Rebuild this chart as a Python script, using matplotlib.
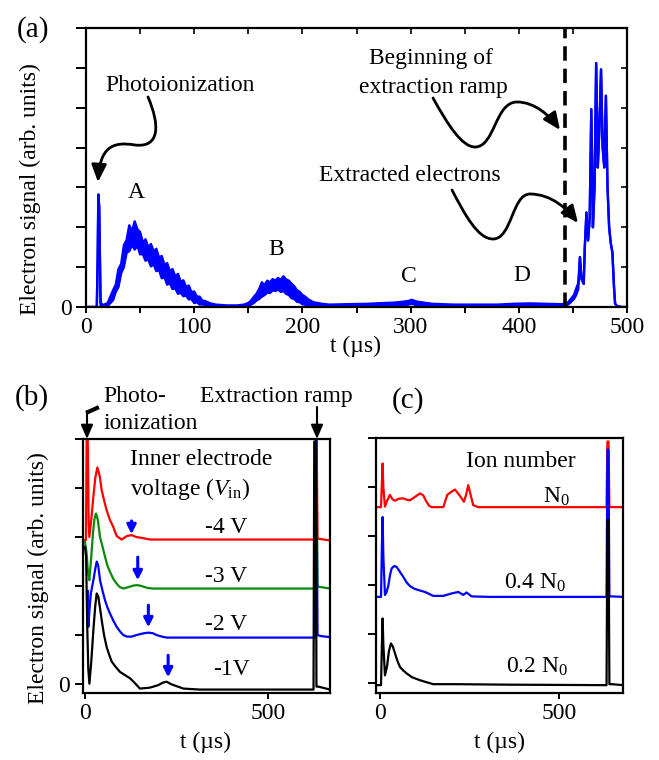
import matplotlib
matplotlib.use("Agg")
import matplotlib.pyplot as plt
from matplotlib.patches import FancyArrowPatch
from matplotlib.path import Path
from matplotlib.transforms import Affine2D

plt.rcParams["font.family"] = ["Liberation Serif", "DejaVu Serif"]
plt.rcParams["mathtext.fontset"] = "custom"
plt.rcParams["mathtext.rm"] = "Liberation Serif"
plt.rcParams["mathtext.it"] = "Liberation Serif:italic"
plt.rcParams["font.size"] = 17

# ---- panel (a): electron signal, upper / lower edge of the noisy trace
t_a = [0, 10, 10.8, 11.4, 12.2, 13.5, 16, 20,
       25, 27.5, 30, 32.5, 35, 37.5, 40, 42.5, 45, 47.5,
       50, 52.5, 55, 57.5, 60, 62.5, 65, 67.5, 70, 72.5,
       75, 77.5, 80, 82.5, 85, 87.5, 90, 92.5, 95, 97.5,
       100, 102.5, 105, 107.5, 110,
       115, 120, 130, 140, 146,
       150, 152.5, 155, 157.5, 160, 162.5, 165, 167.5, 170, 172.5,
       175, 177.5, 180, 182.5, 185, 187.5, 190, 192.5, 195, 197.5,
       200, 202.5, 205, 207.5, 210,
       218, 225, 240, 260, 275, 285, 292, 298, 301, 305,
       312, 320, 340, 360, 380, 395, 410, 425, 440,
       445, 448, 451, 453, 455, 456.5, 458, 460, 461, 462.5,
       464, 465.5, 467, 468.5, 470, 471.5, 473, 474.5, 476, 477.5,
       479, 480.5, 482, 483.5, 485, 486.5, 488, 489, 491, 495, 500]
sig_hi = [0, 0, 1.2, 2.82, 2.5, 0.1, 0.05, 0.1,
          0.42, 0.56, 0.95, 1.08, 1.55, 1.68, 2.05, 1.9, 2.15, 1.95,
          1.88, 1.62, 1.7, 1.5, 1.58, 1.4, 1.46, 1.24, 1.28, 1.06,
          1.1, 0.9, 0.95, 0.77, 0.83, 0.63, 0.67, 0.5, 0.54, 0.37,
          0.39, 0.26, 0.26, 0.16, 0.15,
          0.09, 0.06, 0.04, 0.04, 0.06,
          0.1, 0.16, 0.25, 0.33, 0.45, 0.62, 0.55, 0.66, 0.62, 0.7,
          0.66, 0.73, 0.68, 0.77, 0.69, 0.66, 0.58, 0.52, 0.42, 0.38,
          0.3, 0.26, 0.2, 0.16, 0.12,
          0.08, 0.06, 0.07, 0.08, 0.1, 0.11, 0.13, 0.15, 0.18, 0.14,
          0.11, 0.08, 0.06, 0.06, 0.06, 0.08, 0.09, 0.08, 0.07,
          0.1, 0.2, 0.3, 0.46, 0.6, 1.25, 0.7, 0.58, 1.5, 2.37,
          1.67, 2.2, 4.96, 2.0, 3.0, 6.12, 3.5, 4.5, 5.96, 4.0,
          3.5, 5.3, 3.0, 2.0, 1.6, 1.37, 0.5, 0.08, 0.02, 0.0, 0.0]
sig_lo = [0, 0, 1.2, 2.82, 2.5, 0.02, 0.0, 0.03,
          0.17, 0.38, 0.5, 0.85, 1.0, 1.36, 1.4, 1.56, 1.44, 1.54,
          1.32, 1.33, 1.16, 1.2, 1.02, 1.07, 0.9, 0.93, 0.72, 0.75,
          0.56, 0.6, 0.45, 0.47, 0.33, 0.36, 0.27, 0.29, 0.19, 0.2,
          0.1, 0.12, 0.06, 0.07, 0.03,
          0.03, 0.02, 0.01, 0.01, 0.02,
          0.03, 0.06, 0.1, 0.16, 0.2, 0.26, 0.3, 0.36, 0.35, 0.42,
          0.4, 0.44, 0.38, 0.4, 0.33, 0.3, 0.22, 0.2, 0.13, 0.12,
          0.07, 0.06, 0.04, 0.03, 0.02,
          0.02, 0.01, 0.01, 0.02, 0.03, 0.04, 0.05, 0.06, 0.08, 0.05,
          0.03, 0.02, 0.01, 0.01, 0.01, 0.02, 0.03, 0.02, 0.01,
          0.05, 0.12, 0.2, 0.3, 0.45, 1.25, 0.7, 0.58, 1.5, 2.37,
          1.67, 2.2, 4.96, 2.0, 3.0, 6.12, 3.5, 4.5, 5.96, 4.0,
          3.5, 5.3, 3.0, 2.0, 1.6, 1.37, 0.5, 0.08, 0.02, 0.0, 0.0]
ramp_start = 443
peak_labels = ["A", "B", "C", "D"]

# ---- panel (b): inner electrode voltage, traces offset by one unit
t_b_m4 = [0, 2.5, 4.5, 7.5, 10, 11.8, 17, 22.8, 28, 33.7,
          40, 45.5, 52, 59, 68, 77, 86.5, 100, 114, 127.5,
          140, 150, 177.6, 300, 450, 630, 632.5, 635, 669]
v_b_m4 = [2.94, 2.94, 4.98, 4.98, 3.3, 3.0, 3.35, 3.82, 4.2, 4.42,
          4.25, 3.96, 3.75, 3.55, 3.35, 3.21, 3.02, 2.95, 3.02, 3.04,
          3.0, 2.99, 2.95, 2.95, 2.95, 2.95, 5.0, 2.97, 2.93]
t_b_m3 = [0, 4, 8, 11.8, 16, 22, 26, 30, 35, 41,
          48, 54.6, 61, 68.3, 77, 86.5, 95, 104.7, 114, 123,
          132, 141, 150, 159, 172, 186.7, 300, 450, 628, 631.5,
          635, 669]
v_b_m3 = [2.9, 2.7, 2.3, 2.12, 2.5, 3.1, 3.38, 3.48, 3.35, 3.0,
          2.8, 2.6, 2.42, 2.29, 2.15, 2.05, 1.98, 1.95, 1.97, 1.99,
          2.01, 2.02, 2.01, 1.99, 1.96, 1.95, 1.95, 1.95, 1.95, 5.0,
          1.99, 1.95]
t_b_m2 = [8, 9.1, 12, 16, 22.8, 28, 32, 36, 41, 48,
          54.6, 61, 68.3, 77, 86.5, 95, 104.7, 115, 127.5, 140,
          150, 162, 173, 185, 196, 210, 223, 300, 450, 628,
          631.5, 635, 645, 669]
v_b_m2 = [1.9, 1.17, 1.5, 1.85, 2.12, 2.35, 2.5, 2.42, 2.12, 1.9,
          1.71, 1.57, 1.44, 1.3, 1.17, 1.08, 1.0, 0.97, 0.97, 1.0,
          1.02, 1.04, 1.05, 1.04, 1.0, 0.97, 0.95, 0.95, 0.95, 0.95,
          5.0, 1.0, 0.98, 0.96]
t_b_m1 = [0, 3, 6, 9, 12, 17, 22.8, 28, 31.9, 36.4,
          41, 45.5, 52, 59, 66, 72.9, 84, 95.6, 110, 123,
          135, 150, 177.6, 200, 212, 223, 235, 250, 268.7, 314,
          450, 624, 626, 630, 632, 637.5, 669]
v_b_m1 = [2.8, 2.6, 1.2, 0.3, 0.01, 0.45, 1.1, 1.6, 1.85, 1.78,
          1.55, 1.31, 1.0, 0.76, 0.6, 0.46, 0.35, 0.25, 0.18, 0.12,
          0.03, -0.09, -0.07, -0.02, 0.03, 0.05, 0.0, -0.04, -0.09, -0.11,
          -0.11, -0.11, 4.95, 4.95, -0.05, -0.05, -0.11]
v_labels = ["-4 V", "-3 V", "-2 V", "-1V"]
# small blue arrows: time, arrow tail, arrow tip
arrow_t = [127, 144, 173, 227]
arrow_from = [3.33, 2.59, 1.61, 0.59]
arrow_to = [3.06, 2.12, 1.16, 0.14]

# ---- panel (c): ion number
t_c_n0 = [-5, 3, 5.5, 7.4, 9.5, 14, 20, 28, 35, 42,
          52, 65, 75, 84, 98, 112, 121, 128.5, 137, 144,
          177, 188, 199, 209.5, 223.5, 234.6, 241, 246.7, 253, 260.7,
          274.7, 633, 635.5, 638.5, 641, 647, 680]
v_c_n0 = [3.59, 3.59, 4.1, 4.48, 4.0, 3.6, 3.72, 3.84, 3.75, 3.72,
          3.76, 3.77, 3.74, 3.73, 3.8, 3.87, 3.83, 3.72, 3.62, 3.59,
          3.59, 3.84, 3.9, 3.95, 3.82, 3.7, 3.85, 4.04, 3.85, 3.63,
          3.59, 3.59, 4.93, 4.93, 3.59, 3.59, 3.59]
t_c_04 = [-5, 3, 5.5, 7.4, 9.5, 14, 18, 23, 28, 32.6,
          40, 46.6, 55, 65, 75, 84, 95, 107, 126, 149,
          177, 200, 219, 233, 242, 256, 307, 633, 635.5, 638.5,
          641, 647, 680]
v_c_04 = [1.76, 1.76, 2.8, 3.39, 2.6, 1.8, 1.85, 1.97, 2.2, 2.34,
          2.39, 2.37, 2.28, 2.17, 2.05, 1.98, 1.93, 1.9, 1.86, 1.78,
          1.78, 1.83, 1.86, 1.8, 1.85, 1.77, 1.76, 1.76, 4.76, 4.76,
          1.77, 1.77, 1.76]
t_c_02 = [-5, 3, 5.5, 7.4, 9.5, 14, 20, 25, 30.7, 36,
          42, 49, 56, 65, 74.5, 90, 112, 130, 149, 214,
          354, 633, 635.5, 638.5, 641, 647, 680]
v_c_02 = [-0.04, -0.04, 0.8, 1.32, 0.8, 0.16, 0.35, 0.65, 0.81, 0.75,
          0.61, 0.45, 0.33, 0.26, 0.2, 0.12, 0.06, 0.02, -0.02, -0.02,
          -0.03, -0.04, 3.33, 3.33, -0.02, -0.02, -0.04]

W, H = 659, 760
fig = plt.figure(figsize=(W / 100, H / 100), dpi=100)
# figure pixel coordinates, origin top-left
px = Affine2D().scale(1 / W, -1 / H).translate(0, 1) + fig.transFigure

RED, GREEN, BLUE = "#ff0000", "#0a8a0a", "#0000ff"


def style_axes(ax):
    for s in ax.spines.values():
        s.set_linewidth(1.6)
    ax.tick_params(width=1.4)


# ================= (a)
ax = fig.add_axes([86 / W, 1 - 307 / H, 541 / W, 279 / H])
style_axes(ax)
ax.fill_between(t_a, sig_lo, sig_hi, color=BLUE, lw=0)
ax.plot(t_a, sig_hi, color=BLUE, lw=1.7)
ax.plot(t_a, sig_lo, color=BLUE, lw=1.7)
ax.axvline(ramp_start, color="k", lw=2.6, ls=(0, (4, 2.2)))
ax.set_xlim(0, 500)
ax.set_ylim(0, 7)
ax.set_xticks(range(0, 501, 100))
ax.set_xticks(range(50, 500, 100), minor=True)
ax.set_yticks(range(0, 8))
ax.set_yticklabels(["0"] + [""] * 7)
ax.tick_params(axis="y", direction="out", length=7)
ax.tick_params(axis="x", which="both", direction="out", length=4, width=1.4)
sec = ax.secondary_xaxis("top")
sec.set_xticks(range(0, 501, 50))
sec.tick_params(direction="in", length=4, width=1.2, labeltop=False)
sec.spines["top"].set_visible(False)
sec2 = ax.secondary_yaxis("right")
sec2.set_yticks(range(0, 8))
sec2.tick_params(direction="in", length=4, width=1.2, labelright=False)
sec2.spines["right"].set_visible(False)

fig.text(33, 37, "(a)", transform=px, fontsize=21, ha="center", va="baseline")
fig.text(30, 189, "Electron signal (arb. units)", transform=px, rotation=90,
         ha="center", va="center")
fig.text(356, 352, "t (µs)", transform=px, ha="center", va="baseline")
fig.text(180, 91, "Photoionization", transform=px, ha="center", va="baseline")
for lab, (x, y) in zip(peak_labels, [(136, 198), (276, 255), (409, 282), (522, 281)]):
    fig.text(x, y, lab, transform=px, ha="center", va="baseline")
fig.text(431, 64, "Beginning of", transform=px, ha="center", va="baseline")
fig.text(433, 93, "extraction ramp", transform=px, ha="center", va="baseline")
fig.text(410, 181, "Extracted electrons", transform=px, ha="center", va="baseline")

C7 = [Path.MOVETO] + [Path.CURVE4] * 6
C10 = [Path.MOVETO] + [Path.CURVE4] * 9
curvy = [
    ([(148, 97), (160, 125), (160, 148), (135, 145),
      (112, 141), (100, 148), (98, 182)], C7),
    ([(433, 98), (448, 125), (462, 147), (475, 147),
      (495, 147), (495, 102), (517, 102),
      (535, 102), (550, 116), (560, 130)], C10),
    ([(452, 190), (465, 215), (478, 239), (493, 239),
      (512, 239), (512, 194), (530, 194),
      (552, 194), (568, 210), (578, 223)], C10),
]
for verts, codes in curvy:
    fig.add_artist(FancyArrowPatch(path=Path(verts, codes), transform=px,
                                   arrowstyle="-|>,head_length=0.8,head_width=0.35",
                                   mutation_scale=13, lw=2, color="k"))

# ================= (b)
bx = fig.add_axes([83 / W, 1 - 693 / H, 247 / W, 254 / H])
style_axes(bx)
bx.plot(t_b_m4, v_b_m4, color=RED, lw=1.6)
bx.plot(t_b_m3, v_b_m3, color=GREEN, lw=1.6)
bx.plot(t_b_m2, v_b_m2, color=BLUE, lw=1.6)
bx.plot(t_b_m1, v_b_m1, color="k", lw=1.6)
for t, y0, y1 in zip(arrow_t, arrow_from, arrow_to):
    bx.annotate("", xy=(t, y1), xytext=(t, y0),
                arrowprops=dict(arrowstyle="-|>,head_length=0.6,head_width=0.3",
                                color=BLUE, lw=2.2, mutation_scale=9,
                                shrinkA=0, shrinkB=0))
bx.set_xlim(-5.5, 669)
bx.set_ylim(-0.18, 5)
bx.set_xticks([0, 500])
bx.set_yticks(range(0, 6))
bx.set_yticklabels(["0"] + [""] * 5)
bx.tick_params(axis="y", direction="out", length=6)
bx.tick_params(axis="x", direction="out", length=4)
for lab, (x, y) in zip(v_labels, [(205, 533), (205, 582), (205, 630), (213, 675)]):
    fig.text(x, y, lab, transform=px, ha="left", va="baseline")
fig.text(130, 465, "Inner electrode", transform=px, ha="left", va="baseline")
fig.text(130, 495, r"voltage ($\mathit{V}_{\mathrm{in}}$)", transform=px,
         ha="left", va="baseline")
fig.text(32, 405, "(b)", transform=px, fontsize=21, ha="center", va="baseline")
fig.text(103, 402, "Photo-", transform=px, ha="left", va="baseline")
fig.text(103, 429, "ionization", transform=px, ha="left", va="baseline")
fig.text(200, 402, "Extraction ramp", transform=px, ha="left", va="baseline")
fig.text(38, 578, "Electron signal (arb. units)", transform=px, rotation=90,
         ha="center", va="center")
fig.text(206, 748, "t (µs)", transform=px, ha="center", va="baseline")
fig.add_artist(plt.Line2D([97, 88], [408, 412], transform=px, color="k", lw=3))
fig.add_artist(FancyArrowPatch((87, 411), (87, 439), transform=px,
                               arrowstyle="-|>,head_length=0.7,head_width=0.3",
                               mutation_scale=12, lw=1.5, color="k",
                               shrinkA=0, shrinkB=0))
fig.add_artist(FancyArrowPatch((317, 407), (317, 439), transform=px,
                               arrowstyle="-|>,head_length=0.7,head_width=0.3",
                               mutation_scale=12, lw=1.5, color="k",
                               shrinkA=0, shrinkB=0))

# ================= (c)
cx = fig.add_axes([376 / W, 1 - 693 / H, 247 / W, 255 / H])
style_axes(cx)
cx.plot(t_c_n0, v_c_n0, color=RED, lw=1.6)
cx.plot(t_c_04, v_c_04, color=BLUE, lw=1.6)
cx.plot(t_c_02, v_c_02, color="k", lw=1.6)
cx.set_xlim(-11, 679)
cx.set_ylim(-0.2, 5)
cx.set_xticks([0, 500])
cx.set_yticks(range(0, 6))
cx.set_yticklabels([""] * 6)
cx.tick_params(axis="y", direction="out", length=6)
cx.tick_params(axis="x", direction="out", length=4)
fig.text(408, 408, "(c)", transform=px, fontsize=21, ha="center", va="baseline")
fig.text(466, 467, "Ion number", transform=px, ha="left", va="baseline")
fig.text(543, 503, r"N$_0$", transform=px, ha="left", va="baseline")
fig.text(504, 589, r"0.4 N$_0$", transform=px, ha="left", va="baseline")
fig.text(506, 673, r"0.2 N$_0$", transform=px, ha="left", va="baseline")
fig.text(500, 748, "t (µs)", transform=px, ha="center", va="baseline")

fig.savefig("out.png", dpi=100)
